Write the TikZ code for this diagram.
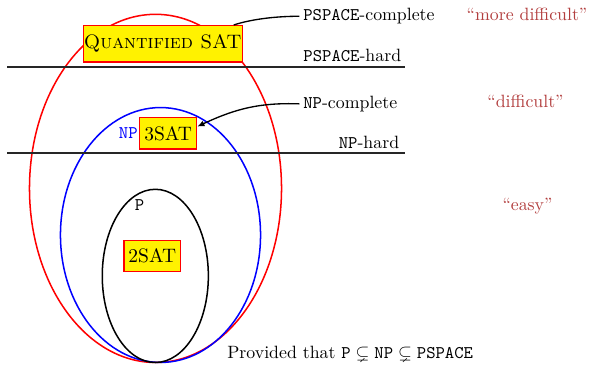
\documentclass[tikz,border=0pt]{standalone}
\usepackage{amssymb}
\usetikzlibrary{arrows.meta}
\definecolor{hintred}{RGB}{178,62,62}
\tikzset{
  problem/.style={draw=red, fill=yellow, line width=0.75pt, inner sep=0pt,
    font=\fontsize{10.95}{13}\selectfont},
  bound/.style={line width=0.85pt, black!85},
  region/.style={line width=0.85pt},
  pointer/.style={line width=0.75pt, black},
  hint/.style={text=hintred, anchor=base},
}
\begin{document}
\begin{tikzpicture}[x=0.5618pt, y=-0.5618pt]
  \useasboundingbox (0,0) rectangle (590,364);

  % nested complexity classes, all touching at the bottom
  \draw[region, red]  (155.5,188.4) ellipse [x radius=70.8pt, y radius=97.8pt];
  \draw[region, blue] (160.5,235.0) ellipse [x radius=56.2pt, y radius=71.6pt];
  \draw[region, black] (155.3,275.9) ellipse [x radius=29.8pt, y radius=48.65pt];

  % hardness thresholds
  \coordinate (psl) at (7,67);
  \coordinate (psr) at (405,67);
  \coordinate (npl) at (7,153);
  \coordinate (npr) at (405,153);
  \draw[bound] (psl) -- (psr);
  \draw[bound] (npl) -- (npr);

  % problems
  \node[problem, minimum width=89.3pt, minimum height=20.4pt] (qsat) at (162.8,43.8) {\textsc{Quantified SAT}};
  \node[problem, minimum width=32pt, minimum height=17.6pt] (sat3) at (168.2,133.3) {3SAT};
  \node[problem, minimum width=31.9pt, minimum height=17.4pt] (sat2) at (152.3,255.8) {2SAT};

  % class names
  \node[anchor=base east, inner sep=0pt, text=blue] (npname) at (138,138.5) {\texttt{NP}};
  \node[anchor=base, inner sep=0pt] (pname) at (139.5,210.5) {\texttt{P}};

  % labels on the right
  \node[anchor=base west, inner sep=0pt] (pscomp) at (303,20.7) {\texttt{PSPACE}-complete};
  \node[anchor=base east, inner sep=0pt] (pshard) at (401.5,61.7) {\texttt{PSPACE}-hard};
  \node[anchor=base west, inner sep=0pt] (npcomp) at (303,108.3) {\texttt{NP}-complete};
  \node[anchor=base east, inner sep=0pt] (nphard) at (399.5,148) {\texttt{NP}-hard};

  \node[hint] (hmore) at (527,21) {``more difficult''};
  \node[hint] (hdiff) at (525.5,107.5) {``difficult''};
  \node[hint] (heasy) at (527.5,210) {``easy''};

  \node[anchor=base west, inner sep=0pt] (note) at (227,358.3)
    {Provided that $\texttt{P}\subsetneq\texttt{NP}\subsetneq\texttt{PSPACE}$};

  % pointers from the labels to the complete problems
  \draw[pointer] ([xshift=-2pt]pscomp.west) to[out=180, in=18, looseness=0.8] ([xshift=-5.2pt]qsat.north east);
  \draw[pointer, -{Latex[length=4pt, width=3.5pt]}] ([xshift=-2pt]npcomp.west) to[out=178, in=25] ([yshift=3.8pt]sat3.east);
\end{tikzpicture}
\end{document}
